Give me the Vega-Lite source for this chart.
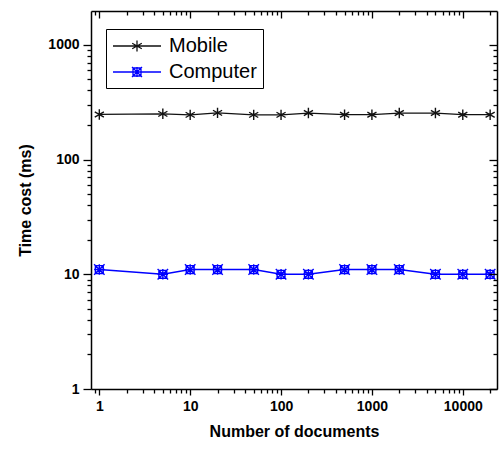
{
  "$schema": "https://vega.github.io/schema/vega-lite/v6.json",
  "autosize": "none",
  "width": 406,
  "height": 378,
  "padding": {"left": 91, "top": 11, "right": 2, "bottom": 62},
  "background": "white",
  "config": {
    "view": {"stroke": null},
    "font": "Liberation Sans",
    "axis": {
      "domainColor": "black",
      "domainWidth": 1.5,
      "grid": false,
      "ticks": true,
      "tickColor": "#000000",
      "tickOpacity": 1,
      "tickWidth": 1.3,
      "tickRound": true,
      "tickOffset": 0,
      "zindex": 1,
      "labelFont": "Liberation Sans",
      "labelFontWeight": "bold",
      "labelFontSize": 14,
      "labelColor": "black",
      "titleFont": "Liberation Sans",
      "titleFontWeight": "bold",
      "titleFontSize": 16,
      "titleColor": "black"
    }
  },
  "data": {
    "values": [
      {"n": 1, "series": "Mobile", "t": 247},
      {"n": 5, "series": "Mobile", "t": 250},
      {"n": 10, "series": "Mobile", "t": 245},
      {"n": 20, "series": "Mobile", "t": 255},
      {"n": 50, "series": "Mobile", "t": 245},
      {"n": 100, "series": "Mobile", "t": 245},
      {"n": 200, "series": "Mobile", "t": 254},
      {"n": 500, "series": "Mobile", "t": 246},
      {"n": 1000, "series": "Mobile", "t": 246},
      {"n": 2000, "series": "Mobile", "t": 254},
      {"n": 5000, "series": "Mobile", "t": 254},
      {"n": 10000, "series": "Mobile", "t": 246},
      {"n": 20000, "series": "Mobile", "t": 246},
      {"n": 1, "series": "Computer", "t": 11},
      {"n": 5, "series": "Computer", "t": 10},
      {"n": 10, "series": "Computer", "t": 11},
      {"n": 20, "series": "Computer", "t": 11},
      {"n": 50, "series": "Computer", "t": 11},
      {"n": 100, "series": "Computer", "t": 10},
      {"n": 200, "series": "Computer", "t": 10},
      {"n": 500, "series": "Computer", "t": 11},
      {"n": 1000, "series": "Computer", "t": 11},
      {"n": 2000, "series": "Computer", "t": 11},
      {"n": 5000, "series": "Computer", "t": 10},
      {"n": 10000, "series": "Computer", "t": 10},
      {"n": 20000, "series": "Computer", "t": 10}
    ]
  },
  "resolve": {"axis": {"x": "independent", "y": "independent"}},
  "layer": [
    {
      "mark": {"type": "line", "strokeWidth": 1.3},
      "encoding": {
        "x": {
          "field": "n", "type": "quantitative",
          "scale": {"type": "log", "domain": [0.81, 23800], "nice": false, "zero": false},
          "axis": {
            "orient": "bottom",
            "title": "Number of documents",
            "titlePadding": 10,
            "values": [1, 10, 100, 1000, 10000],
            "format": "d",
            "ticks": true,
            "tickColor": "#000000",
            "tickOpacity": 1,
            "tickWidth": 1.3,
            "tickSize": 6,
            "zindex": 1,
            "labelPadding": 4,
            "labelFlush": false,
            "labelOverlap": false
          }
        },
        "y": {
          "field": "t", "type": "quantitative",
          "scale": {"type": "log", "domain": [1, 1970], "nice": false, "zero": false},
          "axis": {
            "orient": "left",
            "title": "Time cost (ms)",
            "titlePadding": 14,
            "values": [1, 10, 100, 1000],
            "format": "d",
            "ticks": true,
            "tickColor": "#000000",
            "tickOpacity": 1,
            "tickWidth": 1.3,
            "tickSize": 8,
            "zindex": 1,
            "labelPadding": 4,
            "labelFlush": false,
            "labelOverlap": false
          }
        },
        "color": {
          "field": "series", "type": "nominal",
          "scale": {"domain": ["Mobile", "Computer"], "range": ["#111111", "#0000ff"]},
          "legend": {
            "title": null,
            "orient": "none",
            "legendX": 15,
            "legendY": 18,
            "direction": "vertical",
            "strokeColor": "black",
            "fillColor": "white",
            "padding": 6,
            "symbolSize": 400,
            "symbolStrokeWidth": 1.3,
            "labelOffset": 35,
            "labelFont": "Liberation Sans",
            "labelFontSize": 20,
            "labelColor": "black",
            "labelLimit": 200,
            "rowPadding": 5,
            "symbolType": {"expr": "datum.value === 'Mobile' ? 'M-1,0L3.8,0M1.4,-0.55L1.4,0.55M0.92,-0.28L1.88,0.28M0.92,0.28L1.88,-0.28' : 'M-1,0L3.8,0M1.0,-0.4L1.8,-0.4L1.8,0.4L1.0,0.4ZM0.9,-0.5L1.9,0.5M0.9,0.5L1.9,-0.5M1.4,-0.5L1.4,0.5'"}
          }
        },
        "detail": {"field": "series"}
      }
    },
    {
      "mark": {"type": "point", "opacity": 0},
      "encoding": {
        "x": {
          "field": "n", "type": "quantitative",
          "scale": {"type": "log", "domain": [0.81, 23800], "nice": false, "zero": false},
          "axis": {
            "orient": "bottom",
            "title": null,
            "labels": false,
            "domain": false,
            "ticks": true,
            "tickColor": "#000000",
            "tickOpacity": 1,
            "tickWidth": 1.3,
            "zindex": 1,
            "values": [0.8, 0.9, 2, 3, 4, 5, 6, 7, 8, 9, 20, 30, 40, 50, 60, 70, 80, 90, 200, 300, 400, 500, 600, 700, 800, 900, 2000, 3000, 4000, 5000, 6000, 7000, 8000, 9000, 20000],
            "tickSize": 4
          }
        },
        "y": {
          "field": "t", "type": "quantitative",
          "scale": {"type": "log", "domain": [1, 1970], "nice": false, "zero": false},
          "axis": {
            "orient": "left",
            "title": null,
            "labels": false,
            "domain": false,
            "ticks": true,
            "tickColor": "#000000",
            "tickOpacity": 1,
            "tickWidth": 1.3,
            "zindex": 1,
            "values": [2, 3, 4, 5, 6, 7, 8, 9, 20, 30, 40, 50, 60, 70, 80, 90, 200, 300, 400, 500, 600, 700, 800, 900],
            "tickSize": 4
          }
        }
      }
    },
    {
      "mark": {"type": "point", "opacity": 0},
      "encoding": {
        "x": {
          "field": "n", "type": "quantitative",
          "scale": {"type": "log", "domain": [0.81, 23800], "nice": false, "zero": false},
          "axis": {
            "orient": "top",
            "title": null,
            "labels": false,
            "domain": false,
            "ticks": true,
            "tickColor": "#000000",
            "tickOpacity": 1,
            "tickWidth": 1.3,
            "zindex": 1,
            "values": [0.8, 0.9, 2, 3, 4, 5, 6, 7, 8, 9, 20, 30, 40, 50, 60, 70, 80, 90, 200, 300, 400, 500, 600, 700, 800, 900, 2000, 3000, 4000, 5000, 6000, 7000, 8000, 9000, 20000],
            "tickSize": -4
          }
        },
        "y": {
          "field": "t", "type": "quantitative",
          "scale": {"type": "log", "domain": [1, 1970], "nice": false, "zero": false},
          "axis": {
            "orient": "right",
            "title": null,
            "labels": false,
            "domain": false,
            "ticks": true,
            "tickColor": "#000000",
            "tickOpacity": 1,
            "tickWidth": 1.3,
            "zindex": 1,
            "values": [2, 3, 4, 5, 6, 7, 8, 9, 20, 30, 40, 50, 60, 70, 80, 90, 200, 300, 400, 500, 600, 700, 800, 900],
            "tickSize": -4
          }
        }
      }
    },
    {
      "transform": [{"filter": "datum.series === 'Mobile'"}],
      "mark": {"type": "point", "filled": false, "strokeWidth": 1.4, "size": 110, "opacity": 1, "color": "#111111",
        "shape": "M0,-1L0,1M-0.87,-0.5L0.87,0.5M-0.87,0.5L0.87,-0.5"},
      "encoding": {
        "x": {
          "field": "n", "type": "quantitative",
          "scale": {"type": "log", "domain": [0.81, 23800], "nice": false, "zero": false},
          "axis": {
            "orient": "top",
            "title": null,
            "labels": false,
            "ticks": true,
            "tickColor": "#000000",
            "tickOpacity": 1,
            "tickWidth": 1.3,
            "zindex": 1,
            "values": [1, 10, 100, 1000, 10000],
            "tickSize": -7
          }
        },
        "y": {
          "field": "t", "type": "quantitative",
          "scale": {"type": "log", "domain": [1, 1970], "nice": false, "zero": false},
          "axis": {
            "orient": "right",
            "title": null,
            "labels": false,
            "ticks": true,
            "tickColor": "#000000",
            "tickOpacity": 1,
            "tickWidth": 1.3,
            "zindex": 1,
            "values": [1, 10, 100, 1000],
            "tickSize": -8
          }
        }
      }
    },
    {
      "transform": [{"filter": "datum.series === 'Computer'"}],
      "mark": {"type": "point", "filled": false, "strokeWidth": 1.4, "size": 110, "opacity": 1, "color": "#0000ff",
        "shape": "M-0.75,-0.75L0.75,-0.75L0.75,0.75L-0.75,0.75ZM-1,-1L1,1M-1,1L1,-1M0,-1L0,1M-1,0L1,0"},
      "encoding": {
        "x": {
          "field": "n", "type": "quantitative",
          "scale": {"type": "log", "domain": [0.81, 23800], "nice": false, "zero": false},
          "axis": null
        },
        "y": {
          "field": "t", "type": "quantitative",
          "scale": {"type": "log", "domain": [1, 1970], "nice": false, "zero": false},
          "axis": null
        }
      }
    }
  ]
}
